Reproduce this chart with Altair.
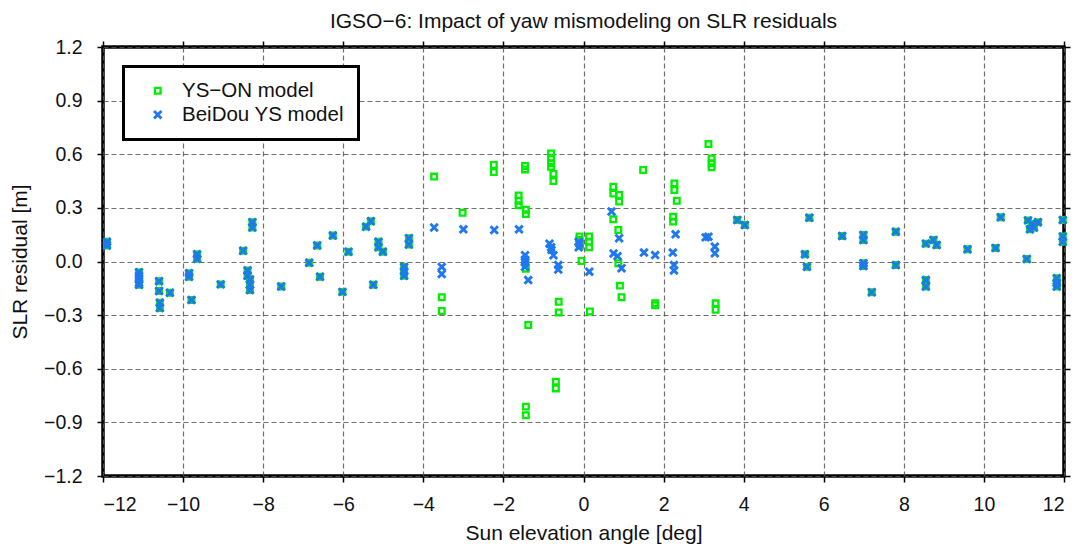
import altair as alt
import pandas as pd

# Points where both yaw models give the same residual (the marks overlap)
shared_x = [-11.90, -11.90, -11.10, -11.10, -11.10, -11.10, -11.10, -10.60, -10.60, -10.58,
            -10.58, -10.33, -9.85, -9.85, -9.79, -9.65, -9.65, -9.06, -8.50, -8.39,
            -8.39, -8.33, -8.33, -8.33, -8.27, -8.27, -7.55, -6.85, -6.65, -6.58,
            -6.26, -6.02, -5.87, -5.43, -5.31, -5.25, -5.12, -5.12, -5.01, -4.48,
            -4.48, -4.48, -4.36, -4.36,
            3.84, 4.03, 5.64, 5.53, 5.58, 6.46, 6.99, 6.99, 6.99, 6.99,
            7.20, 7.80, 7.80, 8.55, 8.74, 8.82, 8.55, 8.55, 9.59, 10.29,
            10.42, 11.07, 11.10, 11.20, 11.25, 11.35, 11.15, 11.82, 11.82, 11.82,
            11.97, 11.97, 11.97]
shared_y = [0.11, 0.09, -0.06, -0.08, -0.10, -0.12, -0.13, -0.11, -0.165, -0.23,
            -0.26, -0.175, -0.065, -0.085, -0.215, 0.04, 0.015, -0.128, 0.06, -0.05,
            -0.08, -0.10, -0.13, -0.16, 0.22, 0.19, -0.14, -0.007, 0.09, -0.085,
            0.145, -0.17, 0.055, 0.195, 0.225, -0.13, 0.11, 0.08, 0.055, -0.03,
            -0.055, -0.08, 0.13, 0.095,
            0.232, 0.204, 0.245, 0.04, -0.03, 0.143, 0.148, 0.12, -0.01, -0.025,
            -0.172, 0.167, -0.02, 0.10, 0.12, 0.092, -0.104, -0.14, 0.068, 0.076,
            0.247, 0.014, 0.23, 0.21, 0.19, 0.22, 0.18, -0.094, -0.12, -0.14,
            0.232, 0.14, 0.11]

# Residuals near the noon/midnight turns with the YS-ON model
ys_on_x = [-3.73, -3.54, -3.54, -3.02, -2.24, -2.24, -1.62, -1.62, -1.62, -1.46,
           -1.46, -1.44, -1.44, -1.45, -1.44, -1.38, -1.44, -1.44, -0.81, -0.81,
           -0.81, -0.81, -0.75, -0.75, -0.69, -0.69, -0.62, -0.62, -0.10, -0.10,
           -0.09, -0.05, 0.14, 0.14, 0.14, 0.16, 0.745, 0.745, 0.89, 0.89,
           0.745, 0.87, 0.87, 0.91, 0.95, 1.49, 1.79, 1.79, 2.27, 2.27,
           2.33, 2.24, 2.24, 3.12, 3.20, 3.20, 3.20, 3.30, 3.30]
ys_on_y = [0.475, -0.20, -0.277, 0.273, 0.54, 0.50, 0.37, 0.34, 0.315, 0.534,
           0.515, 0.29, 0.265, 0.0, -0.04, -0.355, -0.812, -0.86, 0.605, 0.58,
           0.55, 0.53, 0.49, 0.45, -0.672, -0.71, -0.225, -0.285, 0.14, 0.12,
           0.09, 0.003, 0.14, 0.11, 0.08, -0.28, 0.418, 0.38, 0.372, 0.335,
           0.236, 0.176, -0.01, -0.135, -0.20, 0.512, -0.234, -0.245, 0.437, 0.40,
           0.34, 0.25, 0.223, 0.657, 0.577, 0.55, 0.527, -0.234, -0.27]

# Same passes with the BeiDou yaw-steering model
beidou_x = [-3.73, -3.54, -3.54, -3.00, -2.23, -1.61, -1.46, -1.46, -1.46, -1.46,
            -1.38, -0.85, -0.81, -0.80, -0.75, -0.63, -0.63, -0.12, -0.12, -0.10,
            0.145, 0.70, 0.75, 0.85, 0.89, 0.95, 1.51, 1.79, 2.23, 2.26,
            2.26, 2.30, 3.05, 3.12, 3.28, 3.28]
beidou_y = [0.19, -0.03, -0.07, 0.18, 0.176, 0.18, 0.035, 0.01, -0.005, -0.03,
            -0.104, 0.10, 0.08, 0.065, 0.035, -0.02, -0.045, 0.11, 0.08, 0.10,
            -0.057, 0.28, 0.045, 0.03, 0.13, -0.038, 0.05, 0.036, 0.05, -0.02,
            -0.05, 0.152, 0.135, 0.139, 0.083, 0.046]

series_names = ["YS\u2212ON model", "BeiDou YS model"]
series_colors = ["#00ee00", "#1f78f0"]
x_ticks = list(range(-12, 13, 2))
y_ticks = [-1.2, -0.9, -0.6, -0.3, 0.0, 0.3, 0.6, 0.9, 1.2]

green = pd.DataFrame({"x": shared_x + ys_on_x, "y": shared_y + ys_on_y, "series": series_names[0]})
blue = pd.DataFrame({"x": shared_x + beidou_x, "y": shared_y + beidou_y, "series": series_names[1]})
df = pd.concat([green, blue], ignore_index=True)

FONT = "Liberation Sans"
X_PATH = "M-1,-1L1,1M-1,1L1,-1"

xs = alt.Scale(domain=[-12, 12], nice=False, zero=False)
ys = alt.Scale(domain=[-1.2, 1.2], nice=False, zero=False)

points = alt.Chart(df).mark_point(filled=False, opacity=1).encode(
    x=alt.X("x:Q", scale=xs,
            axis=alt.Axis(values=x_ticks, format="d", title="Sun elevation angle [deg]",
                          orient="bottom", labelBaseline="alphabetic", labelPadding=28,
                          titleBaseline="alphabetic", titleY=63.5, grid=True)),
    y=alt.Y("y:Q", scale=ys,
            axis=alt.Axis(values=y_ticks, format=".1f", title="SLR residual [m]",
                          orient="left", labelPadding=15,
                          titleBaseline="alphabetic", titleX=-76.5, grid=True)),
    color=alt.Color("series:N",
                    scale=alt.Scale(domain=series_names, range=series_colors),
                    legend=alt.Legend(title=None, orient="none", legendX=20.5, legendY=19.5,
                                      strokeColor="black", fillColor="white", padding=14,
                                      symbolOffset=10, labelOffset=14, rowPadding=3,
                                      labelFontSize=20.5, labelFont=FONT, labelColor="#111",
                                      labelLimit=400,
                                      symbolSize=40, symbolStrokeWidth=2.5)),
    shape=alt.Shape("series:N",
                    scale=alt.Scale(domain=series_names, range=["square", X_PATH])),
    size=alt.Size("series:N",
                  scale=alt.Scale(domain=series_names, range=[32, 55]), legend=None),
    strokeWidth=alt.StrokeWidth("series:N",
                                scale=alt.Scale(domain=series_names, range=[2.3, 2.9]),
                                legend=None),
)

# Tick marks on the top and right edges of the frame
edge_ticks = alt.Chart(df).mark_point(opacity=0).encode(
    x=alt.X("x:Q", scale=xs,
            axis=alt.Axis(values=x_ticks, orient="top", labels=False, grid=False,
                          domain=False, title=None)),
    y=alt.Y("y:Q", scale=ys,
            axis=alt.Axis(values=y_ticks, orient="right", labels=False, grid=False,
                          domain=False, title=None)),
)

chart = alt.layer(points, edge_ticks).resolve_axis(
    x="independent", y="independent"
).properties(
    width=961,
    height=429,
    padding={"left": 103, "top": 47, "right": 21, "bottom": 70},
    autosize=alt.AutoSizeParams(type="none"),
    title=alt.Title("IGSO\u22126: Impact of yaw mismodeling on SLR residuals",
                    fontSize=21, font=FONT, fontWeight="normal", color="#111",
                    anchor="middle", baseline="alphabetic", offset=13, dy=25),
).configure_view(
    stroke="black", strokeWidth=3.5
).configure_axis(
    domain=False,
    labelFont=FONT, labelFontSize=19.5, labelColor="#111",
    titleFont=FONT, titleFontSize=21, titleFontWeight="normal", titleColor="#111",
    tickColor="black", tickWidth=1.5, tickSize=6,
    gridColor="#555", gridDash=[5, 3], gridWidth=1.2, gridOpacity=0.85,
).configure_legend(
    strokeWidth=3
)

chart.save("out.html", embed_options={"renderer": "svg", "actions": False})
